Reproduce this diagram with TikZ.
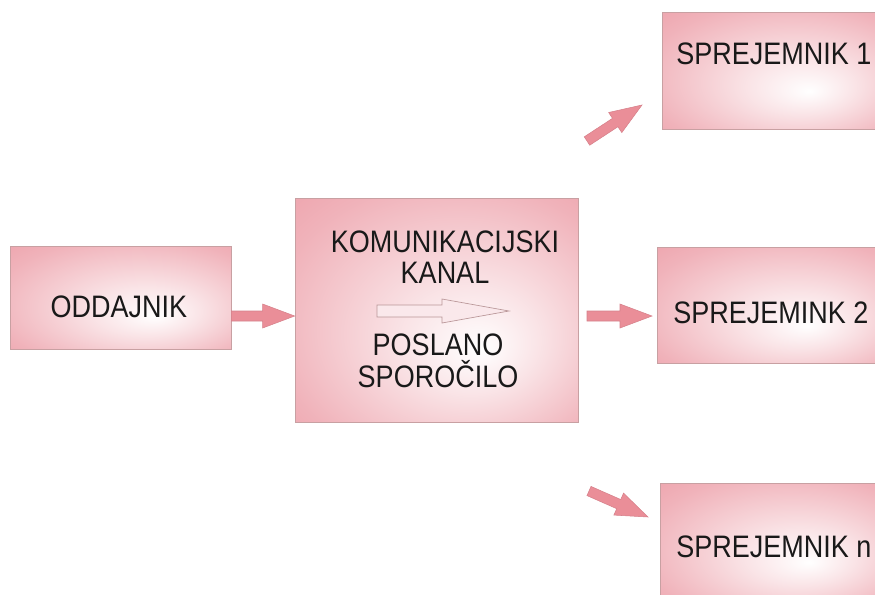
\documentclass[tikz,border=0pt]{standalone}
\usepackage{fontspec}
\setmainfont{Liberation Sans}
\usepackage{graphicx}
\usetikzlibrary{calc}

\definecolor{boxpink}{RGB}{234,146,157}
\definecolor{boxline}{RGB}{200,160,162}
\definecolor{arrowpink}{RGB}{234,142,152}
\definecolor{arrowline}{RGB}{214,128,138}
\definecolor{hollowline}{RGB}{185,150,152}
\definecolor{hollowfill}{RGB}{250,232,235}

% light spot a little low and right of the middle of each box
\pgfdeclareradialshading{boxglow}{\pgfpoint{8bp}{-9bp}}{color(0bp)=(white); color(12bp)=(boxpink!25!white); color(32bp)=(boxpink!70!white); color(50bp)=(boxpink)}

\newcommand{\tallbox}[1]{\scalebox{1}[1.15]{#1}}

% fat arrow from #1 (tail) to #2 (tip)
\newcommand{\blockarrow}[2]{%
  \coordinate (hb) at ($(#2)!24pt!(#1)$);
  \draw[arrowbody] ($(#1)!3.75pt!90:(#2)$) -- ($(hb)!3.75pt!90:(#2)$) -- ($(hb)!9pt!90:(#2)$) -- (#2)
    -- ($(hb)!9pt!-90:(#2)$) -- ($(hb)!3.75pt!-90:(#2)$) -- ($(#1)!3.75pt!-90:(#2)$) -- cycle;}

\tikzset{
  box/.style={draw=boxline, line width=0.5pt, shade, shading=boxglow, inner sep=0pt},
  boxtext/.style={font=\fontsize{20.25}{24}\selectfont, text=black!90, inner sep=0pt},
  arrowbody/.style={fill=arrowpink, draw=arrowline, line width=0.4pt, line join=miter},
  hollow/.style={fill=hollowfill, draw=hollowline, line width=0.5pt}
}

\begin{document}
\begin{tikzpicture}[x=0.75pt,y=-0.75pt]
\useasboundingbox (0,0) rectangle (875,594);
\clip (0,0) rectangle (875,594);

%Shape: Rectangle
\node[box, minimum width=165.75pt, minimum height=77.25pt] (oddajnik) at (120.5,297.5) {};
%Shape: Rectangle
\node[box, minimum width=212.25pt, minimum height=168pt] (kanal) at (436.5,310) {};
%Shape: Rectangle
\node[box, minimum width=168pt, minimum height=87.75pt] (sprejemnik1) at (774,70.5) {};
%Shape: Rectangle
\node[box, minimum width=171.75pt, minimum height=87pt] (sprejemnik2) at (771.5,305) {};
%Shape: Rectangle
\node[box, minimum width=169.5pt, minimum height=87.75pt] (sprejemnikn) at (773,541.5) {};

%Shape: Right Arrow (inside the channel)
\draw[hollow] (377,305) -- (442,305) -- (442,299) -- (509,311) -- (442,323) -- (442,317) -- (377,317) -- cycle;

% arrow ends
\coordinate (t1) at (oddajnik.east |- 0,316);
\coordinate (h1) at (kanal.west |- 0,316);
\coordinate (t2) at (587,316);
\coordinate (h2) at (652,316);
\coordinate (t3) at (587,141);
\coordinate (h3) at (642,105);
\coordinate (t4) at (589,491);
\coordinate (h4) at (648,517);

%Shape: Block Arrows
\blockarrow{t1}{h1}
\blockarrow{t2}{h2}
\blockarrow{t3}{h3}
\blockarrow{t4}{h4}

% Text Node
\node[boxtext, anchor=base] (oddajnik-t) at (119,317) {\tallbox{ODDAJNIK}};
% Text Node
\node[boxtext, anchor=base] (kanal-t1) at (445,252) {\tallbox{KOMUNIKACIJSKI}};
\node[boxtext, anchor=base] (kanal-t2) at (445,283) {\tallbox{KANAL}};
% Text Node
\node[boxtext, anchor=base] (kanal-t3) at (438,355) {\tallbox{POSLANO}};
\node[boxtext, anchor=base] (kanal-t4) at (438,387) {\tallbox{SPOROČILO}};
% Text Node
\node[boxtext, anchor=base west] (sprejemnik1-t) at (676,64) {\tallbox{SPREJEMNIK 1}};
% Text Node
\node[boxtext, anchor=base west] (sprejemnik2-t) at (673,323) {\tallbox{SPREJEMINK 2}};
% Text Node
\node[boxtext, anchor=base west] (sprejemnikn-t) at (676,557) {\tallbox{SPREJEMNIK n}};
\end{tikzpicture}
\end{document}
